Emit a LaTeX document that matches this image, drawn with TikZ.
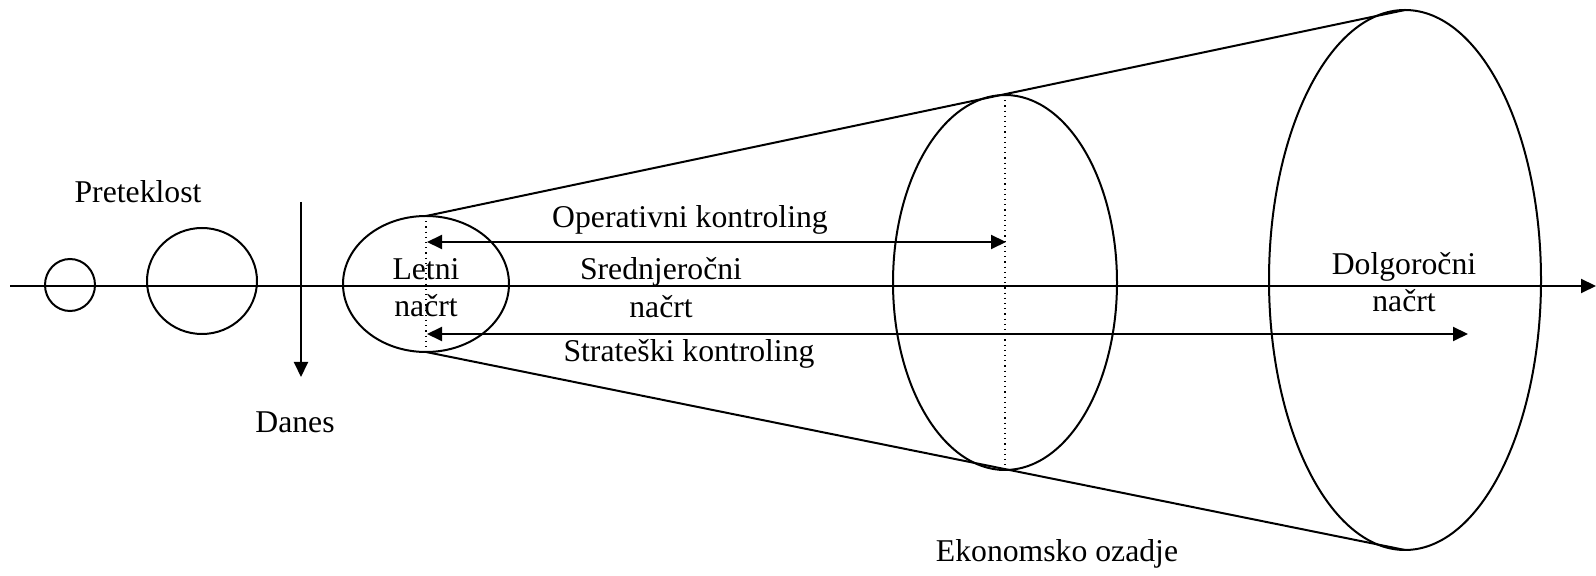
\documentclass[tikz,border=0pt]{standalone}
\usepackage{fontspec}
\setmainfont{Liberation Serif}
\usetikzlibrary{arrows.meta,shapes.geometric}
\begin{document}
\begin{tikzpicture}[x=0.5pt,y=-0.5pt,
  ln/.style={line width=1pt},
  tip/.style={Triangle[length=7.5pt,width=7pt]},
  arr/.style={ln,-{Triangle[length=7.5pt,width=7pt]}},
  darr/.style={ln,{Triangle[length=7.5pt,width=7pt]}-{Triangle[length=7.5pt,width=7pt]}},
  ring/.style={draw,ellipse,line width=1pt,inner sep=0pt,outer sep=0pt},
  lbl/.style={font=\fontsize{15.85}{19}\selectfont,inner sep=0pt,anchor=base},
  dotline/.style={line width=0.6pt,dotted}]
\useasboundingbox (0,0) rectangle (1596,576);
% axis
\coordinate (axL) at (10,286);
\coordinate (axR) at (1596,286);
\draw[arr] (axL) -- (axR);
% past circles
\node[ring,minimum width=25pt,minimum height=26pt] (c1) at (70,285) {};
\node[ring,minimum width=55pt,minimum height=53pt] (c2) at (202,281) {};
% today
\coordinate (dT) at (301,202);
\coordinate (dB) at (301,377);
\draw[arr] (dT) -- (dB);
% plan ellipses
\node[ring,minimum width=83pt,minimum height=68pt] (e1) at (426,284) {};
\node[ring,minimum width=112pt,minimum height=187.5pt] (e2) at (1005,282.5) {};
\node[ring,minimum width=136pt,minimum height=270pt] (e3) at (1405,280) {};
% cone
\draw[ln] (e1.north) -- (e3.north);
\draw[ln] (e1.south) -- (e3.south);
% dotted diameters
\draw[dotline] (e1.north) -- (e1.south);
\draw[dotline] (e2.north) -- (e2.south);
% controlling arrows
\coordinate (opL) at (427,242);
\coordinate (opR) at (1006,242);
\draw[darr] (opL) -- (opR);
\coordinate (stL) at (427,334);
\coordinate (stR) at (1468,334);
\draw[darr] (stL) -- (stR);
% labels
\node[lbl] (preteklost) at (138,203) {Preteklost};
\node[lbl] (danes) at (295,433) {Danes};
\node[lbl] (letni) at (426,280) {Letni};
\node[lbl] (letni2) at (426,317) {načrt};
\node[lbl] (oper) at (690,228) {Operativni kontroling};
\node[lbl] (sred) at (661,280) {Srednjeročni};
\node[lbl] (sred2) at (661,318) {načrt};
\node[lbl] (strat) at (689,362) {Strateški kontroling};
\node[lbl] (dolg) at (1404,275) {Dolgoročni};
\node[lbl] (dolg2) at (1404,312) {načrt};
\node[lbl] (ekon) at (1057,562) {Ekonomsko ozadje};
\end{tikzpicture}
\end{document}
